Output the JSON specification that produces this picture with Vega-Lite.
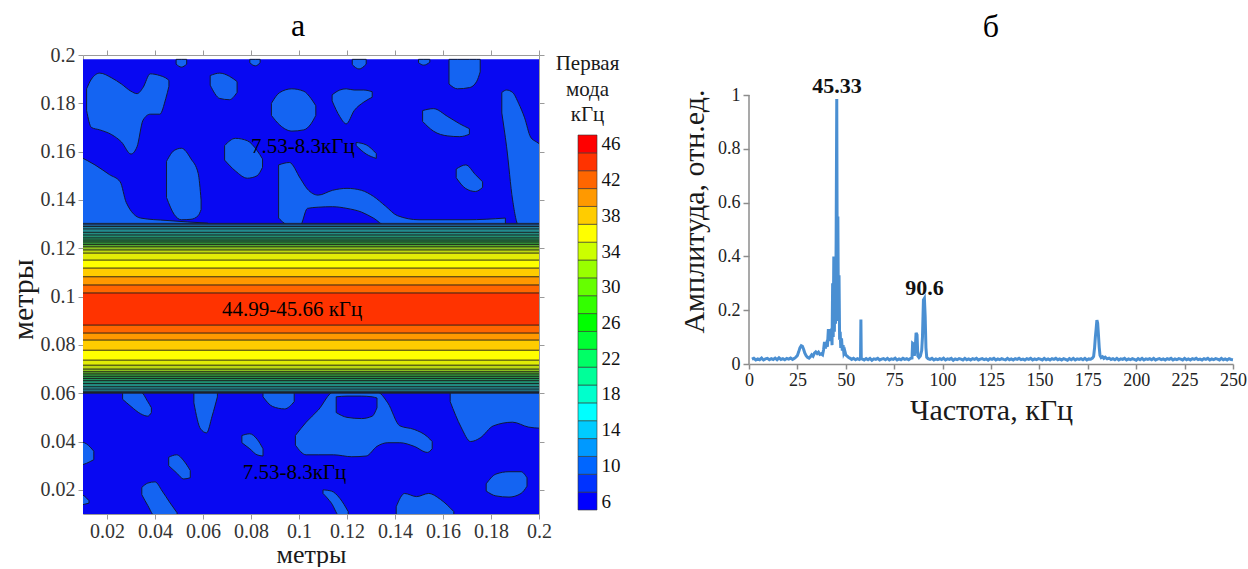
{
"$schema": "https://vega.github.io/schema/vega-lite/v6.json",
"background": "white",
"padding": {"left": 8, "top": 10, "right": 0, "bottom": 0},
"config": {"font": "Liberation Serif", "view": {"stroke": null}},
"datasets": {
"bands": [
{"v":10,"lo":0.0600,"hi":0.1303},{"v":12,"lo":0.0603,"hi":0.1297},{"v":14,"lo":0.0608,"hi":0.1290},{"v":16,"lo":0.0617,"hi":0.1280},{"v":18,"lo":0.0627,"hi":0.1266},{"v":20,"lo":0.0640,"hi":0.1255},{"v":22,"lo":0.0652,"hi":0.1243},{"v":24,"lo":0.0661,"hi":0.1234},{"v":26,"lo":0.0670,"hi":0.1226},{"v":28,"lo":0.0680,"hi":0.1216},{"v":30,"lo":0.0689,"hi":0.1206},{"v":32,"lo":0.0700,"hi":0.1193},{"v":34,"lo":0.0716,"hi":0.1180},{"v":36,"lo":0.0737,"hi":0.1151},{"v":38,"lo":0.0778,"hi":0.1118},{"v":40,"lo":0.0820,"hi":0.1082},{"v":42,"lo":0.0849,"hi":0.1048},{"v":44,"lo":0.0882,"hi":0.1015}
],
"blobs": [
{"id":"A","x":0.0115,"lo":0.177,"hi":0.186},{"id":"A","x":0.0135,"lo":0.170,"hi":0.190},{"id":"A","x":0.017,"lo":0.169,"hi":0.1925},{"id":"A","x":0.022,"lo":0.167,"hi":0.1905},{"id":"A","x":0.026,"lo":0.164,"hi":0.188},{"id":"A","x":0.030,"lo":0.159,"hi":0.185},{"id":"A","x":0.0325,"lo":0.162,"hi":0.184},{"id":"A","x":0.035,"lo":0.173,"hi":0.1865},{"id":"A","x":0.038,"lo":0.1755,"hi":0.1922},{"id":"A","x":0.042,"lo":0.1755,"hi":0.1915},{"id":"A","x":0.0445,"lo":0.182,"hi":0.1905},{"id":"A","x":0.0458,"lo":0.187,"hi":0.1895},
{"id":"B","x":0.063,"lo":0.1875,"hi":0.1915},{"id":"B","x":0.067,"lo":0.182,"hi":0.1925},{"id":"B","x":0.071,"lo":0.1815,"hi":0.1912},{"id":"B","x":0.0742,"lo":0.1845,"hi":0.189},
{"id":"C","x":0.0885,"lo":0.175,"hi":0.180},{"id":"C","x":0.092,"lo":0.171,"hi":0.1845},{"id":"C","x":0.097,"lo":0.1685,"hi":0.186},{"id":"C","x":0.102,"lo":0.169,"hi":0.185},{"id":"C","x":0.105,"lo":0.1715,"hi":0.182},{"id":"C","x":0.107,"lo":0.175,"hi":0.179},
{"id":"D","x":0.1138,"lo":0.181,"hi":0.1835},{"id":"D","x":0.117,"lo":0.1745,"hi":0.1855},{"id":"D","x":0.1197,"lo":0.1715,"hi":0.186},{"id":"D","x":0.123,"lo":0.177,"hi":0.1855},{"id":"D","x":0.127,"lo":0.1805,"hi":0.1855},{"id":"D","x":0.1305,"lo":0.1825,"hi":0.1848},
{"id":"E","x":0.1515,"lo":0.1725,"hi":0.177},{"id":"E","x":0.156,"lo":0.1685,"hi":0.1778},{"id":"E","x":0.162,"lo":0.1665,"hi":0.1745},{"id":"E","x":0.167,"lo":0.1662,"hi":0.1715},{"id":"E","x":0.171,"lo":0.1672,"hi":0.1695},
{"id":"F","x":0.1625,"lo":0.188,"hi":0.1982},{"id":"F","x":0.166,"lo":0.186,"hi":0.1982},{"id":"F","x":0.171,"lo":0.1865,"hi":0.1982},{"id":"F","x":0.174,"lo":0.189,"hi":0.1982},{"id":"F","x":0.1755,"lo":0.193,"hi":0.1982},
{"id":"G","x":0.1845,"lo":0.176,"hi":0.1845},{"id":"G","x":0.1865,"lo":0.162,"hi":0.1855},{"id":"G","x":0.189,"lo":0.140,"hi":0.1845},{"id":"G","x":0.1915,"lo":0.1295,"hi":0.180},{"id":"G","x":0.194,"lo":0.1295,"hi":0.174},{"id":"G","x":0.1965,"lo":0.1295,"hi":0.166},{"id":"G","x":0.199,"lo":0.1295,"hi":0.164},{"id":"G","x":0.2005,"lo":0.1295,"hi":0.163},
{"id":"LS","x":0.0085,"lo":0.1285,"hi":0.158},{"id":"LS","x":0.015,"lo":0.1285,"hi":0.1545},{"id":"LS","x":0.021,"lo":0.1285,"hi":0.1505},{"id":"LS","x":0.0255,"lo":0.1285,"hi":0.1475},{"id":"LS","x":0.028,"lo":0.1285,"hi":0.139},{"id":"LS","x":0.034,"lo":0.1285,"hi":0.1325},{"id":"LS","x":0.045,"lo":0.1285,"hi":0.1315},{"id":"LS","x":0.062,"lo":0.1285,"hi":0.1304},
{"id":"I","x":0.0448,"lo":0.141,"hi":0.156},{"id":"I","x":0.048,"lo":0.134,"hi":0.1605},{"id":"I","x":0.051,"lo":0.1318,"hi":0.1614},{"id":"I","x":0.055,"lo":0.132,"hi":0.157},{"id":"I","x":0.058,"lo":0.1335,"hi":0.151},{"id":"I","x":0.0592,"lo":0.136,"hi":0.140},
{"id":"J","x":0.069,"lo":0.1565,"hi":0.1625},{"id":"J","x":0.0735,"lo":0.152,"hi":0.1655},{"id":"J","x":0.0785,"lo":0.149,"hi":0.1645},{"id":"J","x":0.0825,"lo":0.150,"hi":0.1605},{"id":"J","x":0.0848,"lo":0.1535,"hi":0.157},
{"id":"K","x":0.0915,"lo":0.1325,"hi":0.1545},{"id":"K","x":0.096,"lo":0.1295,"hi":0.1555},{"id":"K","x":0.1005,"lo":0.1295,"hi":0.149},{"id":"K","x":0.1035,"lo":0.1365,"hi":0.1445},{"id":"K","x":0.108,"lo":0.137,"hi":0.142},{"id":"K","x":0.114,"lo":0.1372,"hi":0.144},{"id":"K","x":0.120,"lo":0.1365,"hi":0.1448},{"id":"K","x":0.126,"lo":0.135,"hi":0.144},{"id":"K","x":0.131,"lo":0.1325,"hi":0.1415},{"id":"K","x":0.136,"lo":0.1295,"hi":0.1375},{"id":"K","x":0.141,"lo":0.1295,"hi":0.1335},{"id":"K","x":0.15,"lo":0.1295,"hi":0.1318},{"id":"K","x":0.17,"lo":0.1295,"hi":0.1318},{"id":"K","x":0.186,"lo":0.1295,"hi":0.1325},
{"id":"L","x":0.1655,"lo":0.1492,"hi":0.1528},{"id":"L","x":0.1695,"lo":0.1447,"hi":0.1545},{"id":"L","x":0.1735,"lo":0.1435,"hi":0.1505},{"id":"L","x":0.1765,"lo":0.1452,"hi":0.1475},
{"id":"M","x":0.1238,"lo":0.1625,"hi":0.1638},{"id":"M","x":0.128,"lo":0.159,"hi":0.1628},{"id":"M","x":0.1322,"lo":0.1572,"hi":0.1592},
{"id":"T1","x":0.0488,"lo":0.1962,"hi":0.1982},{"id":"T1","x":0.051,"lo":0.195,"hi":0.1982},{"id":"T1","x":0.0532,"lo":0.1962,"hi":0.1982},
{"id":"T2","x":0.0795,"lo":0.1968,"hi":0.1982},{"id":"T2","x":0.0818,"lo":0.1955,"hi":0.1982},{"id":"T2","x":0.0838,"lo":0.1968,"hi":0.1982},
{"id":"T3","x":0.1222,"lo":0.196,"hi":0.1982},{"id":"T3","x":0.125,"lo":0.1942,"hi":0.1982},{"id":"T3","x":0.128,"lo":0.1962,"hi":0.1982},
{"id":"T4","x":0.1498,"lo":0.1968,"hi":0.1982},{"id":"T4","x":0.152,"lo":0.1958,"hi":0.1982},{"id":"T4","x":0.1545,"lo":0.197,"hi":0.1982},
{"id":"B1","x":0.0265,"lo":0.0575,"hi":0.0605},{"id":"B1","x":0.030,"lo":0.0545,"hi":0.0605},{"id":"B1","x":0.034,"lo":0.0515,"hi":0.0605},{"id":"B1","x":0.037,"lo":0.0505,"hi":0.0565},{"id":"B1","x":0.0385,"lo":0.052,"hi":0.054},
{"id":"B2","x":0.0562,"lo":0.056,"hi":0.0605},{"id":"B2","x":0.059,"lo":0.0452,"hi":0.0605},{"id":"B2","x":0.0615,"lo":0.0436,"hi":0.0605},{"id":"B2","x":0.0638,"lo":0.0505,"hi":0.0605},{"id":"B2","x":0.066,"lo":0.0585,"hi":0.0605},
{"id":"B3","x":0.085,"lo":0.0585,"hi":0.0605},{"id":"B3","x":0.089,"lo":0.0545,"hi":0.0605},{"id":"B3","x":0.094,"lo":0.0535,"hi":0.0605},{"id":"B3","x":0.098,"lo":0.0565,"hi":0.0605},
{"id":"N","x":0.0985,"lo":0.0385,"hi":0.0425},{"id":"N","x":0.103,"lo":0.0345,"hi":0.048},{"id":"N","x":0.108,"lo":0.0345,"hi":0.053},{"id":"N","x":0.1144,"lo":0.0345,"hi":0.0605},{"id":"N","x":0.122,"lo":0.0337,"hi":0.0605},{"id":"N","x":0.128,"lo":0.034,"hi":0.0605},{"id":"N","x":0.1325,"lo":0.038,"hi":0.0605},{"id":"N","x":0.137,"lo":0.0395,"hi":0.056},{"id":"N","x":0.142,"lo":0.0395,"hi":0.0465},{"id":"N","x":0.148,"lo":0.038,"hi":0.045},{"id":"N","x":0.1535,"lo":0.0355,"hi":0.042},{"id":"N","x":0.1555,"lo":0.037,"hi":0.040},
{"id":"B4","x":0.0762,"lo":0.0395,"hi":0.0425},{"id":"B4","x":0.0795,"lo":0.037,"hi":0.0432},{"id":"B4","x":0.0825,"lo":0.0345,"hi":0.041},{"id":"B4","x":0.085,"lo":0.034,"hi":0.037},
{"id":"B5","x":0.0457,"lo":0.030,"hi":0.0335},{"id":"B5","x":0.049,"lo":0.027,"hi":0.0345},{"id":"B5","x":0.052,"lo":0.0245,"hi":0.032},{"id":"B5","x":0.0547,"lo":0.025,"hi":0.028},
{"id":"B6","x":0.0345,"lo":0.018,"hi":0.021},{"id":"B6","x":0.037,"lo":0.0135,"hi":0.0228},{"id":"B6","x":0.040,"lo":0.009,"hi":0.0233},{"id":"B6","x":0.043,"lo":0.009,"hi":0.0195},{"id":"B6","x":0.046,"lo":0.009,"hi":0.015},{"id":"B6","x":0.0492,"lo":0.009,"hi":0.0105},
{"id":"B7","x":0.110,"lo":0.0185,"hi":0.020},{"id":"B7","x":0.1135,"lo":0.0145,"hi":0.0195},{"id":"B7","x":0.117,"lo":0.009,"hi":0.0165},{"id":"B7","x":0.1205,"lo":0.009,"hi":0.011},
{"id":"B8","x":0.1405,"lo":0.009,"hi":0.013},{"id":"B8","x":0.144,"lo":0.009,"hi":0.0185},{"id":"B8","x":0.149,"lo":0.009,"hi":0.0172},{"id":"B8","x":0.154,"lo":0.009,"hi":0.0185},{"id":"B8","x":0.159,"lo":0.009,"hi":0.016},{"id":"B8","x":0.1645,"lo":0.009,"hi":0.011},
{"id":"B9","x":0.178,"lo":0.0195,"hi":0.0225},{"id":"B9","x":0.182,"lo":0.0175,"hi":0.0265},{"id":"B9","x":0.1875,"lo":0.017,"hi":0.0275},{"id":"B9","x":0.1925,"lo":0.0185,"hi":0.0275},{"id":"B9","x":0.195,"lo":0.0215,"hi":0.025},
{"id":"R","x":0.163,"lo":0.0565,"hi":0.0605},{"id":"R","x":0.1675,"lo":0.046,"hi":0.0605},{"id":"R","x":0.1715,"lo":0.040,"hi":0.0605},{"id":"R","x":0.1755,"lo":0.0415,"hi":0.0605},{"id":"R","x":0.181,"lo":0.0465,"hi":0.0605},{"id":"R","x":0.189,"lo":0.048,"hi":0.0605},{"id":"R","x":0.1955,"lo":0.046,"hi":0.0605},{"id":"R","x":0.2005,"lo":0.0455,"hi":0.0605},
{"id":"LE","x":0.0085,"lo":0.030,"hi":0.040},{"id":"LE","x":0.0115,"lo":0.031,"hi":0.039},{"id":"LE","x":0.0145,"lo":0.0325,"hi":0.036},
{"id":"LE2","x":0.0085,"lo":0.0135,"hi":0.0185},{"id":"LE2","x":0.0105,"lo":0.014,"hi":0.0175},{"id":"LE2","x":0.0125,"lo":0.0145,"hi":0.0155}
],
"holes": [
{"id":"NH","x":0.1155,"lo":0.052,"hi":0.0585},{"id":"NH","x":0.120,"lo":0.050,"hi":0.0588},{"id":"NH","x":0.126,"lo":0.0495,"hi":0.0588},{"id":"NH","x":0.1305,"lo":0.0505,"hi":0.0585},{"id":"NH","x":0.1325,"lo":0.054,"hi":0.058}
],
"labels": [
{"x":0.1016,"y":0.162,"text":"7.53-8.3кГц"},
{"x":0.0971,"y":0.0944,"text":"44.99-45.66 кГц"},
{"x":0.0981,"y":0.0268,"text":"7.53-8.3кГц"}
],
"cbar": [{"v":6,"lo":5,"hi":7},{"v":8,"lo":7,"hi":9},{"v":10,"lo":9,"hi":11},{"v":12,"lo":11,"hi":13},{"v":14,"lo":13,"hi":15},{"v":16,"lo":15,"hi":17},{"v":18,"lo":17,"hi":19},{"v":20,"lo":19,"hi":21},{"v":22,"lo":21,"hi":23},{"v":24,"lo":23,"hi":25},{"v":26,"lo":25,"hi":27},{"v":28,"lo":27,"hi":29},{"v":30,"lo":29,"hi":31},{"v":32,"lo":31,"hi":33},{"v":34,"lo":33,"hi":35},{"v":36,"lo":35,"hi":37},{"v":38,"lo":37,"hi":39},{"v":40,"lo":39,"hi":41},{"v":42,"lo":41,"hi":43},{"v":44,"lo":43,"hi":45},{"v":46,"lo":45,"hi":47}],
"cbtitle": [{"t":"Первая","y":55.0},{"t":"мода","y":52.0},{"t":"кГц","y":49.2}],
"spec": [
{"f":1.5,"a":0.018},{"f":2.5,"a":0.021},{"f":3.5,"a":0.015},{"f":4.5,"a":0.019},{"f":5.5,"a":0.016},{"f":6.5,"a":0.022},{"f":7.5,"a":0.015},{"f":8.5,"a":0.019},{"f":9.5,"a":0.021},{"f":10.5,"a":0.016},{"f":11.5,"a":0.02},{"f":12.5,"a":0.017},{"f":13.5,"a":0.022},{"f":14.5,"a":0.016},{"f":15.5,"a":0.023},{"f":16.5,"a":0.017},{"f":17.5,"a":0.02},{"f":18.5,"a":0.016},{"f":19.5,"a":0.021},{"f":20.5,"a":0.018},{"f":21.5,"a":0.022},{"f":22.5,"a":0.017},{"f":23.5,"a":0.021},{"f":24.3,"a":0.026},
{"f":25,"a":0.032},{"f":25.7,"a":0.046},{"f":26.3,"a":0.06},{"f":27,"a":0.068},{"f":27.6,"a":0.066},{"f":28.2,"a":0.055},{"f":28.8,"a":0.041},{"f":29.5,"a":0.031},{"f":30.2,"a":0.025},{"f":31,"a":0.022},{"f":31.7,"a":0.027},{"f":32.4,"a":0.034},{"f":33.1,"a":0.029},{"f":33.8,"a":0.04},{"f":34.5,"a":0.045},{"f":35.2,"a":0.039},{"f":35.9,"a":0.044},{"f":36.6,"a":0.036},{"f":37.3,"a":0.038},{"f":38,"a":0.034},{"f":38.5,"a":0.052},{"f":39,"a":0.082},{"f":39.5,"a":0.058},{"f":40,"a":0.073},{"f":40.5,"a":0.064},{"f":41,"a":0.13},{"f":41.4,"a":0.088},{"f":41.8,"a":0.125},{"f":42.2,"a":0.085},{"f":42.6,"a":0.132},{"f":42.9,"a":0.07},{"f":43.2,"a":0.3},{"f":43.5,"a":0.1},{"f":43.8,"a":0.4},{"f":44.1,"a":0.12},{"f":44.4,"a":0.32},{"f":44.7,"a":0.15},{"f":45.0,"a":0.45},{"f":45.33,"a":0.985},{"f":45.6,"a":0.28},{"f":45.9,"a":0.548},{"f":46.2,"a":0.16},{"f":46.5,"a":0.33},{"f":46.8,"a":0.09},{"f":47.1,"a":0.12},{"f":47.4,"a":0.06},{"f":47.8,"a":0.095},{"f":48.2,"a":0.05},{"f":48.6,"a":0.07},{"f":49,"a":0.04},{"f":49.5,"a":0.048},{"f":50,"a":0.034},{"f":50.7,"a":0.029},{"f":51.5,"a":0.024},{"f":52.3,"a":0.021},{"f":53,"a":0.017},{"f":54,"a":0.021},{"f":55,"a":0.016},{"f":56,"a":0.02},{"f":57,"a":0.017},{"f":57.6,"a":0.02},{"f":57.8,"a":0.165},{"f":58.0,"a":0.02},{"f":58.6,"a":0.018},
{"f":59.5,"a":0.015},{"f":60.5,"a":0.02},{"f":61.5,"a":0.016},{"f":62.5,"a":0.021},{"f":63.5,"a":0.014},{"f":64.5,"a":0.019},{"f":65.5,"a":0.017},{"f":66.5,"a":0.021},{"f":67.5,"a":0.015},{"f":68.5,"a":0.018},{"f":69.5,"a":0.02},{"f":70.5,"a":0.016},{"f":71.5,"a":0.021},{"f":72.5,"a":0.015},{"f":73.5,"a":0.019},{"f":74.5,"a":0.017},{"f":75.5,"a":0.022},{"f":76.5,"a":0.015},{"f":77.5,"a":0.019},{"f":78.5,"a":0.016},{"f":79.5,"a":0.021},{"f":80.5,"a":0.017},{"f":81.5,"a":0.02},{"f":82.5,"a":0.016},{"f":83.5,"a":0.021},
{"f":84.2,"a":0.022},{"f":84.5,"a":0.077},{"f":85.0,"a":0.074},{"f":85.4,"a":0.03},{"f":85.9,"a":0.06},{"f":86.3,"a":0.116},{"f":86.8,"a":0.108},{"f":87.2,"a":0.03},{"f":87.8,"a":0.024},{"f":88.5,"a":0.03},{"f":89.2,"a":0.05},{"f":89.6,"a":0.1},{"f":90.1,"a":0.238},{"f":90.6,"a":0.244},{"f":91.0,"a":0.176},{"f":91.4,"a":0.06},{"f":91.8,"a":0.025},
{"f":92.5,"a":0.02},{"f":93.5,"a":0.017},{"f":94.5,"a":0.021},{"f":95.5,"a":0.015},{"f":96.5,"a":0.019},{"f":97.5,"a":0.016},{"f":98.5,"a":0.02},{"f":99.5,"a":0.017},{"f":100.5,"a":0.022},{"f":101.5,"a":0.015},{"f":102.5,"a":0.019},{"f":103.5,"a":0.017},{"f":104.5,"a":0.021},{"f":105.5,"a":0.014},{"f":106.5,"a":0.019},{"f":107.5,"a":0.016},{"f":108.5,"a":0.02},{"f":109.5,"a":0.018},{"f":110.5,"a":0.015},{"f":111.5,"a":0.021},{"f":112.5,"a":0.016},{"f":113.5,"a":0.019},{"f":114.5,"a":0.015},{"f":115.5,"a":0.02},{"f":116.5,"a":0.017},{"f":117.5,"a":0.021},{"f":118.5,"a":0.015},{"f":119.5,"a":0.018},{"f":120.5,"a":0.02},{"f":121.5,"a":0.016},{"f":122.5,"a":0.019},{"f":123.5,"a":0.014},{"f":124.5,"a":0.02},{"f":125.5,"a":0.017},{"f":126.5,"a":0.021},{"f":127.5,"a":0.015},{"f":128.5,"a":0.019},{"f":129.5,"a":0.016},{"f":130.5,"a":0.02},{"f":131.5,"a":0.017},{"f":132.5,"a":0.015},{"f":133.5,"a":0.021},{"f":134.5,"a":0.016},{"f":135.5,"a":0.019},{"f":136.5,"a":0.015},{"f":137.5,"a":0.02},{"f":138.5,"a":0.017},{"f":139.5,"a":0.021},{"f":140.5,"a":0.016},{"f":141.5,"a":0.018},{"f":142.5,"a":0.015},{"f":143.5,"a":0.02},{"f":144.5,"a":0.017},{"f":145.5,"a":0.021},{"f":146.5,"a":0.015},{"f":147.5,"a":0.019},{"f":148.5,"a":0.016},{"f":149.5,"a":0.02},{"f":150.5,"a":0.018},{"f":151.5,"a":0.015},{"f":152.5,"a":0.021},{"f":153.5,"a":0.016},{"f":154.5,"a":0.019},{"f":155.5,"a":0.015},{"f":156.5,"a":0.02},{"f":157.5,"a":0.017},{"f":158.5,"a":0.021},{"f":159.5,"a":0.016},{"f":160.5,"a":0.019},{"f":161.5,"a":0.015},{"f":162.5,"a":0.02},{"f":163.5,"a":0.017},{"f":164.5,"a":0.014},{"f":165.5,"a":0.02},{"f":166.5,"a":0.016},{"f":167.5,"a":0.021},{"f":168.5,"a":0.015},{"f":169.5,"a":0.019},{"f":170.5,"a":0.017},{"f":171.5,"a":0.02},{"f":172.5,"a":0.016},{"f":173.5,"a":0.021},{"f":174.5,"a":0.015},{"f":175.5,"a":0.019},{"f":176.5,"a":0.018},{"f":177.4,"a":0.022},
{"f":178.0,"a":0.028},{"f":178.5,"a":0.06},{"f":178.9,"a":0.1},{"f":179.3,"a":0.13},{"f":179.7,"a":0.163},{"f":180.1,"a":0.152},{"f":180.5,"a":0.108},{"f":180.9,"a":0.062},{"f":181.3,"a":0.032},{"f":181.9,"a":0.024},{"f":182.6,"a":0.027},{"f":183.3,"a":0.021},{"f":184,"a":0.025},
{"f":185,"a":0.019},{"f":186,"a":0.022},{"f":187,"a":0.017},{"f":188,"a":0.02},{"f":189,"a":0.016},{"f":190,"a":0.021},{"f":191,"a":0.015},{"f":192,"a":0.019},{"f":193,"a":0.017},{"f":194,"a":0.021},{"f":195,"a":0.015},{"f":196,"a":0.019},{"f":197,"a":0.016},{"f":198,"a":0.02},{"f":199,"a":0.017},{"f":200,"a":0.014},{"f":201,"a":0.02},{"f":202,"a":0.016},{"f":203,"a":0.021},{"f":204,"a":0.015},{"f":205,"a":0.019},{"f":206,"a":0.017},{"f":207,"a":0.02},{"f":208,"a":0.016},{"f":209,"a":0.021},{"f":210,"a":0.015},{"f":211,"a":0.018},{"f":212,"a":0.02},{"f":213,"a":0.016},{"f":214,"a":0.019},{"f":215,"a":0.015},{"f":216,"a":0.02},{"f":217,"a":0.017},{"f":218,"a":0.021},{"f":219,"a":0.015},{"f":220,"a":0.019},{"f":221,"a":0.016},{"f":222,"a":0.02},{"f":223,"a":0.018},{"f":224,"a":0.015},{"f":225,"a":0.021},{"f":226,"a":0.016},{"f":227,"a":0.019},{"f":228,"a":0.015},{"f":229,"a":0.02},{"f":230,"a":0.017},{"f":231,"a":0.021},{"f":232,"a":0.016},{"f":233,"a":0.018},{"f":234,"a":0.015},{"f":235,"a":0.02},{"f":236,"a":0.017},{"f":237,"a":0.021},{"f":238,"a":0.015},{"f":239,"a":0.019},{"f":240,"a":0.016},{"f":241,"a":0.02},{"f":242,"a":0.018},{"f":243,"a":0.015},{"f":244,"a":0.021},{"f":245,"a":0.016},{"f":246,"a":0.019},{"f":247,"a":0.015},{"f":248,"a":0.02},{"f":249,"a":0.017},{"f":250,"a":0.016}
],
"peaks": [{"f":45.4,"a":1.006,"text":"45.33"},{"f":90.6,"a":0.258,"text":"90.6"}],
"yline": [{"f":0,"a":0,"a1":1}]
},
"spacing": 59,
"hconcat": [
{
"title": {"text": "а", "fontSize": 32, "fontWeight": "normal", "color": "#000", "anchor": "middle", "dx": -16, "offset": 2},
"spacing": 3,
"hconcat": [
{
"width": 456, "height": 459,
"layer": [
{
"data": {"values": [{"x0": 0.005, "x1": 0.205, "y0": 0.005, "y1": 0.1982}]},
"mark": {"type": "rect", "fill": "#0808f2", "clip": true},
"encoding": {
"x": {"field": "x0", "type": "quantitative", "scale": {"domain": [0.01, 0.2], "nice": false, "zero": false},
"axis": {"orient": "bottom", "values": [0.02,0.04,0.06,0.08,0.1,0.12,0.14,0.16,0.18,0.2], "format": "~g", "title": "метры", "titleFontSize": 26, "titleFontWeight": "normal", "titleColor": "#1a1a1a", "titlePadding": 0, "labelFontSize": 20, "labelColor": "#333", "labelPadding": 2, "labelFlush": false, "labelOverlap": false, "domainColor": "#9a9a9a", "tickColor": "#9a9a9a", "tickSize": 5, "grid": false}},
"x2": {"field": "x1"},
"y": {"field": "y0", "type": "quantitative", "scale": {"domain": [0.01, 0.2], "nice": false, "zero": false},
"axis": {"orient": "left", "values": [0.02,0.04,0.06,0.08,0.1,0.12,0.14,0.16,0.18,0.2], "format": "~g", "title": "метры", "titleFontSize": 30, "titleFontWeight": "normal", "titleColor": "#1a1a1a", "titlePadding": 2, "titleY": 244, "labelFontSize": 20, "labelColor": "#333", "labelPadding": 3, "labelFlush": false, "labelOverlap": false, "domainColor": "#9a9a9a", "tickColor": "#9a9a9a", "tickSize": 5, "grid": false}},
"y2": {"field": "y1"}
}
},
{
"data": {"name": "blobs"},
"mark": {"type": "area", "orient": "vertical", "interpolate": "monotone", "fill": "#1464f2", "stroke": "#101a3a", "strokeWidth": 1, "clip": true},
"encoding": {
"x": {"field": "x", "type": "quantitative", "scale": {"domain": [0.01, 0.2], "nice": false, "zero": false}, "axis": null},
"y": {"field": "lo", "type": "quantitative", "stack": null, "scale": {"domain": [0.01, 0.2], "nice": false, "zero": false}, "axis": null},
"y2": {"field": "hi"},
"detail": {"field": "id"}
}
},
{
"data": {"name": "holes"},
"mark": {"type": "area", "orient": "vertical", "interpolate": "monotone", "fill": "#0808f2", "stroke": "#101a3a", "strokeWidth": 1, "clip": true},
"encoding": {
"x": {"field": "x", "type": "quantitative", "scale": {"domain": [0.01, 0.2], "nice": false, "zero": false}, "axis": null},
"y": {"field": "lo", "type": "quantitative", "stack": null, "scale": {"domain": [0.01, 0.2], "nice": false, "zero": false}, "axis": null},
"y2": {"field": "hi"},
"detail": {"field": "id"}
}
},
{
"data": {"name": "bands"},
"mark": {"type": "rect", "stroke": "#1b1b1b", "strokeWidth": 0.9, "clip": true},
"encoding": {
"x": {"datum": 0.005, "type": "quantitative", "scale": {"domain": [0.01, 0.2], "nice": false, "zero": false}, "axis": null},
"x2": {"datum": 0.205},
"y": {"field": "lo", "type": "quantitative", "scale": {"domain": [0.01, 0.2], "nice": false, "zero": false}, "axis": null},
"y2": {"field": "hi"},
"fill": {"field": "v", "type": "ordinal", "legend": null, "scale": {"domain": [10,12,14,16,18,20,22,24,26,28,30,32,34,36,38,40,42,44], "range": ["#1a62e0","#1f78b8","#22849c","#238a8e","#238c82","#218e70","#22905c","#27944a","#33993c","#58aa2c","#8cc21e","#bcd812","#e2ec06","#ffff00","#ffcc00","#ff9900","#ff6600","#ff3300"]}}
}
},
{
"data": {"name": "labels"},
"mark": {"type": "text", "fontSize": 21, "color": "#000", "baseline": "middle", "align": "center"},
"encoding": {
"x": {"field": "x", "type": "quantitative", "scale": {"domain": [0.01, 0.2], "nice": false, "zero": false},
"axis": {"orient": "top", "values": [0.02,0.04,0.06,0.08,0.1,0.12,0.14,0.16,0.18,0.2], "labels": false, "title": null, "domainColor": "#9a9a9a", "tickColor": "#9a9a9a", "tickSize": 5, "grid": false}},
"y": {"field": "y", "type": "quantitative", "scale": {"domain": [0.01, 0.2], "nice": false, "zero": false},
"axis": {"orient": "right", "values": [0.02,0.04,0.06,0.08,0.1,0.12,0.14,0.16,0.18,0.2], "labels": false, "title": null, "domainColor": "#9a9a9a", "tickColor": "#9a9a9a", "tickSize": 5, "grid": false}},
"text": {"field": "text"}
}
}
],
"resolve": {"axis": {"x": "independent", "y": "independent"}}
},
{
"width": 19, "height": 455,
"layer": [
{
"data": {"name": "cbar"},
"mark": {"type": "rect", "stroke": "#333", "strokeWidth": 0.6},
"encoding": {
"x": {"datum": 0, "type": "quantitative", "scale": {"domain": [0, 1], "nice": false}, "axis": null},
"x2": {"datum": 1},
"y": {"field": "lo", "type": "quantitative", "scale": {"domain": [5, 55.96], "nice": false, "zero": false},
"axis": {"orient": "right", "values": [6,10,14,18,22,26,30,34,38,42,46], "ticks": false, "domain": false, "grid": false, "labelFontSize": 19, "labelColor": "#111", "labelPadding": 4, "title": null}},
"y2": {"field": "hi"},
"color": {"field": "v", "type": "ordinal", "legend": null, "scale": {"domain": [6,8,10,12,14,16,18,20,22,24,26,28,30,32,34,36,38,40,42,44,46], "range": ["#0000ff","#0033ff","#0066ff","#0099ff","#00ccff","#00ffff","#00ffcc","#00ff99","#00ff66","#00ff33","#00ff00","#33ff00","#66ff00","#99ff00","#ccff00","#ffff00","#ffcc00","#ff9900","#ff6600","#ff3300","#ff0000"]}}
}
},
{
"data": {"name": "cbtitle"},
"mark": {"type": "text", "fontSize": 21, "color": "#1a1a1a", "baseline": "middle", "align": "center"},
"encoding": {
"x": {"datum": 0.5, "type": "quantitative"},
"y": {"field": "y", "type": "quantitative"},
"text": {"field": "t"}
}
}
]
}
]
},
{
"width": 484, "height": 309,
"title": {"text": "б", "fontSize": 32, "fontWeight": "normal", "color": "#000", "anchor": "middle", "frame": "group", "offset": 11},
"layer": [
{
"data": {"name": "spec"},
"mark": {"type": "line", "color": "#4a8fd2", "strokeWidth": 3},
"encoding": {
"x": {"field": "f", "type": "quantitative", "scale": {"domain": [0, 250], "nice": false},
"axis": {"values": [0,25,50,75,100,125,150,175,200,225,250], "title": "Частота, кГц", "titleFontSize": 30, "titleFontWeight": "normal", "titleColor": "#1a1a1a", "titlePadding": 6, "labelFontSize": 18, "labelColor": "#222", "labelPadding": 2, "labelFlush": false, "labelOverlap": false, "domainColor": "#8c8c8c", "tickColor": "#8c8c8c", "domainWidth": 1.5, "tickWidth": 1.5, "tickSize": 5, "grid": false}},
"y": {"field": "a", "type": "quantitative", "scale": {"domain": [0, 1.149], "nice": false},
"axis": {"values": [0,0.2,0.4,0.6,0.8,1], "format": "~g", "title": "Амплитуда, отн.ед.", "titleFontSize": 30, "titleFontWeight": "normal", "titleColor": "#1a1a1a", "titlePadding": 8, "titleY": 156, "labelFontSize": 18, "labelColor": "#222", "labelPadding": 3, "labelFlush": false, "labelOverlap": false, "domain": false, "tickColor": "#8c8c8c", "tickWidth": 1.5, "tickSize": 6, "grid": false}}
}
},
{
"data": {"name": "yline"},
"mark": {"type": "rule", "color": "#8c8c8c", "strokeWidth": 1.5},
"encoding": {
"x": {"field": "f", "type": "quantitative"},
"y": {"field": "a", "type": "quantitative"},
"y2": {"field": "a1"}
}
},
{
"data": {"name": "peaks"},
"mark": {"type": "text", "fontSize": 22, "fontWeight": "bold", "color": "#111", "baseline": "alphabetic", "align": "center"},
"encoding": {
"x": {"field": "f", "type": "quantitative"},
"y": {"field": "a", "type": "quantitative"},
"text": {"field": "text"}
}
}
]
}
]
}
